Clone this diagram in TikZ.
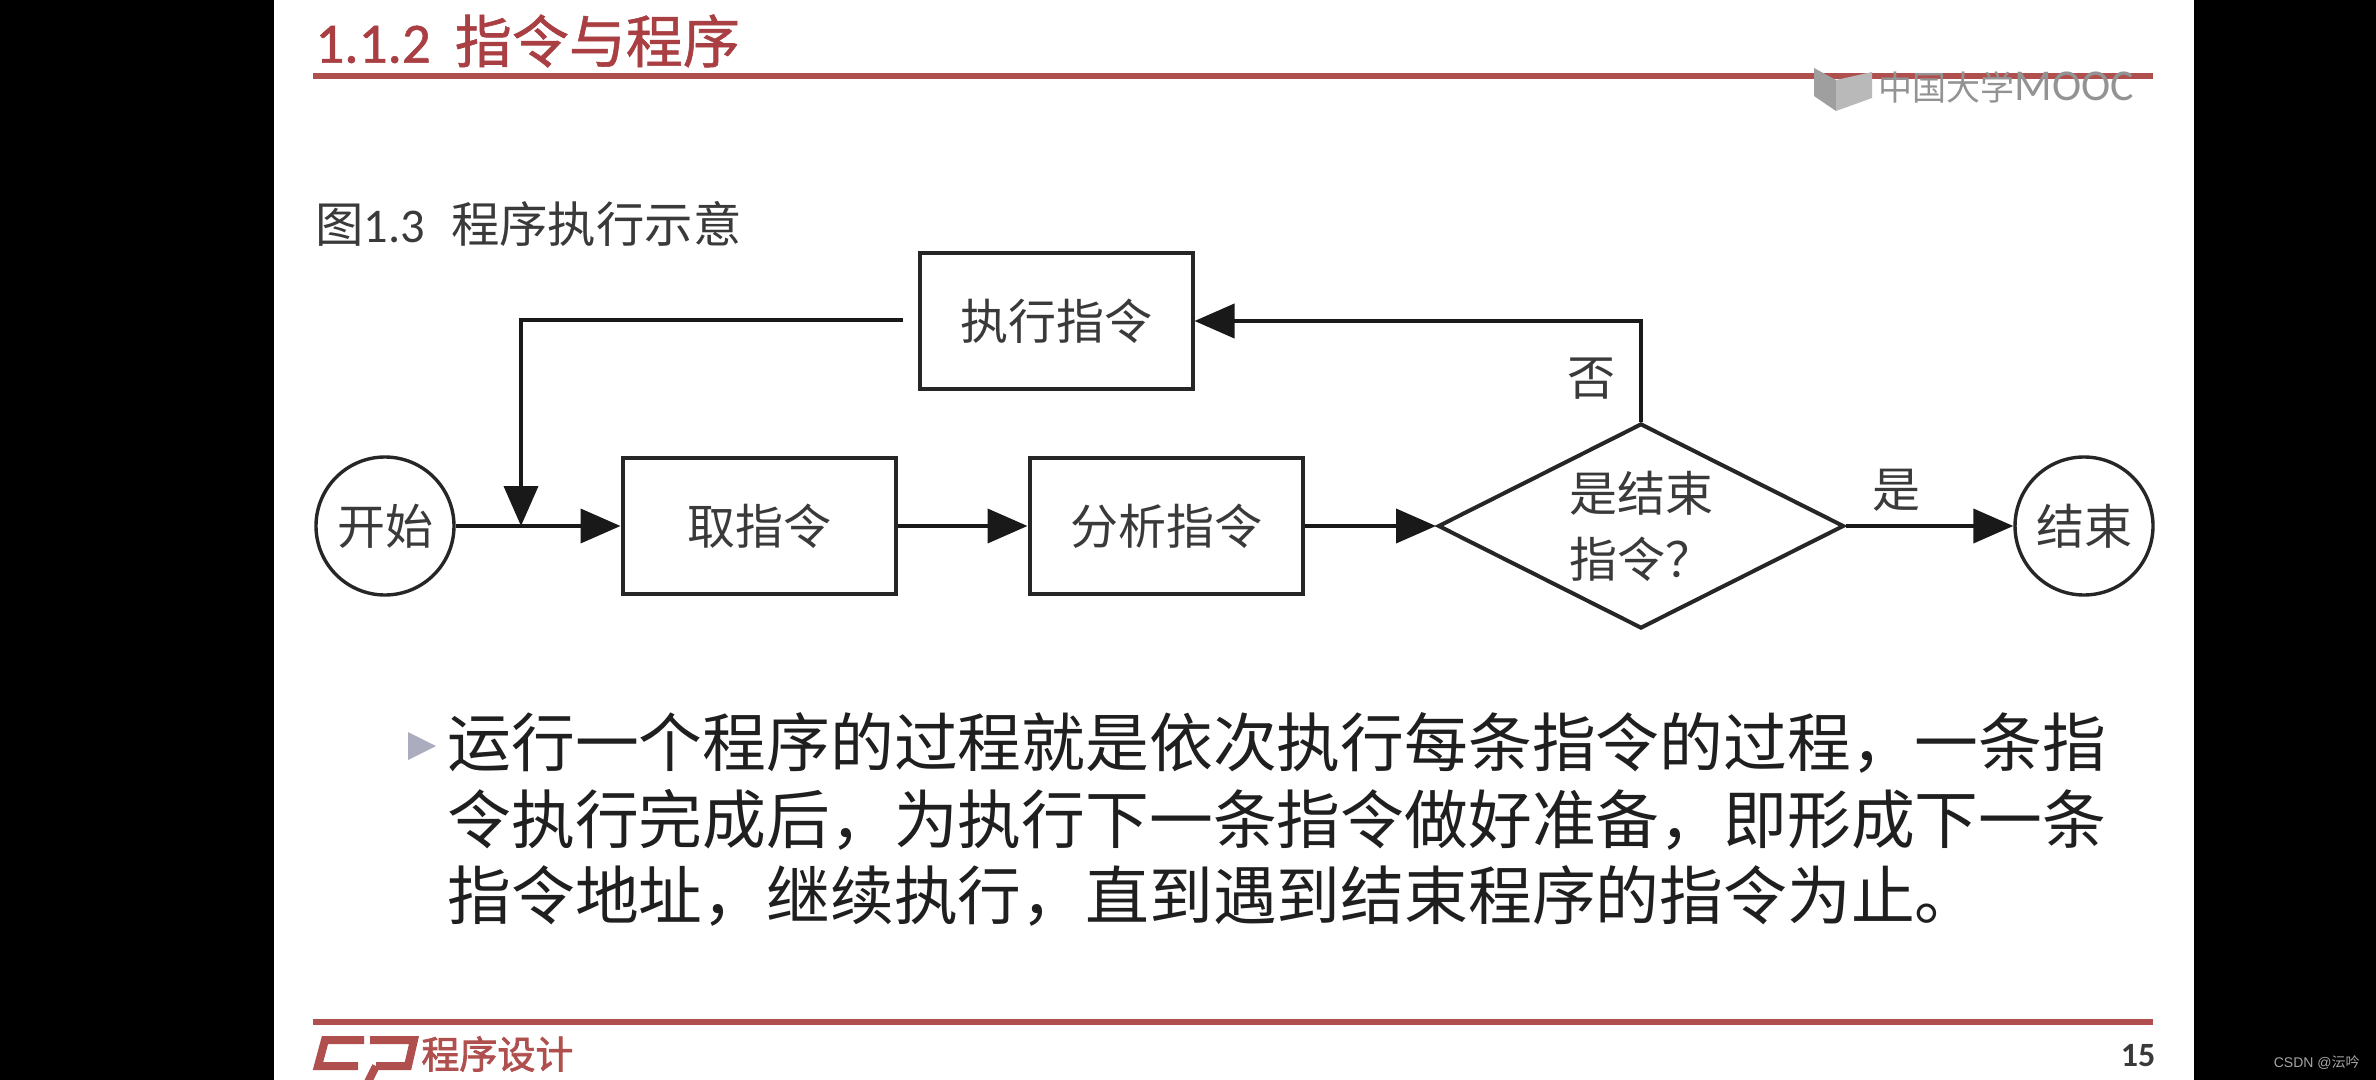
\documentclass[tikz,border=0pt]{standalone}
\usepackage{fontspec}
\setmainfont{Noto Sans CJK SC}
\newfontfamily\latf{Carlito}
\newfontfamily\arf{Liberation Sans}
\usetikzlibrary{shapes.geometric,arrows.meta}
\definecolor{slidered}{HTML}{B0504E}
\definecolor{titlered}{HTML}{A93F42}
\definecolor{inkgray}{HTML}{3A3A3A}
\tikzset{
  x=0.5pt,y=-0.5pt,
  boxnode/.style={draw=black!85,line width=2pt,minimum width=136.5pt,minimum height=68pt,inner sep=0pt,text=inkgray,font=\fontsize{24}{28}\selectfont},
  endnode/.style={circle,draw=black!85,line width=1.7pt,minimum size=69pt,inner sep=0pt,text=inkgray,font=\fontsize{24}{28}\selectfont},
  decnode/.style={diamond,aspect=2,draw=black!85,line width=2pt,minimum width=203pt,minimum height=102.5pt,inner sep=0pt,text=inkgray,align=left,font=\fontsize{24}{33}\selectfont},
  conn/.style={draw=black!90,line width=2pt},
  arrowconn/.style={conn,-{Triangle[length=20pt,width=17pt]}},
  lbl/.style={inner sep=0pt,text=inkgray,font=\fontsize{24}{28}\selectfont},
  bodyline/.style={anchor=west,inner sep=0pt,text=black!88,font=\fontsize{31.9}{36}\selectfont},
  redrule/.style={draw=slidered,line width=3.2pt},
  logostroke/.style={draw=slidered,line width=4pt,line join=miter}
}
\begin{document}
\begin{tikzpicture}
\useasboundingbox (0,0) rectangle (2376,1080);
\fill[black] (0,0) rectangle (2376,1080);
\fill[white] (274,0) rectangle (2194,1080);
\begin{scope}
\clip (0,0) rectangle (2376,1080);
% header
\node[anchor=west,inner sep=0pt,text=titlered] (title) at (315,41) {\fontsize{28.5}{32}\selectfont\addfontfeature{FakeBold=1}{\latf\addfontfeature{FakeBold=1} 1.1.2}\hspace{12pt}指令与程序};
\draw[redrule] (313,76) -- (2153,76);
% watermark
\fill[gray!75] (1814,68) -- (1836,80) -- (1836,111) -- (1814,96) -- cycle;
\fill[gray!55] (1836,80) -- (1872,72) -- (1872,98) -- (1836,111) -- cycle;
\node[anchor=west,inner sep=0pt,text=gray!85] (mooc) at (1878,87) {\fontsize{17}{20}\selectfont 中国大学\latf\fontsize{22}{20}\selectfont MOOC};
% caption
\node[anchor=west,inner sep=0pt,text=inkgray] (caption) at (315,224) {\fontsize{24.2}{28}\selectfont 图{\latf 1.3}\hspace{13pt}程序执行示意};
% flow nodes
\node[endnode] (start) at (385,526) {开始};
\node[boxnode] (fetch) at (759,526) {取指令};
\node[boxnode] (decode) at (1166,526) {分析指令};
\node[boxnode] (exec) at (1056,321) {执行指令};
\node[decnode] (check) at (1641,526) {是结束\\指令？};
\node[endnode] (stop) at (2084,526) {结束};
\coordinate (fbstart) at (903,320);
\coordinate (fbcorner) at (521,320);
\coordinate (fbjoin) at (521,526);
\draw[arrowconn] (start) -- (fetch);
\draw[arrowconn] (fetch) -- (decode);
\draw[arrowconn] (decode) -- (check);
\draw[arrowconn] (check) -- (stop);
\draw[arrowconn] (check.north) |- (exec.east);
\draw[arrowconn] (fbstart) -- (fbcorner) -- (fbjoin);
\node[lbl] (no) at (1591,379) {否};
\node[lbl] (yes) at (1896,490) {是};
% bullet text
\fill[black!25!blue!18!gray!55] (408,732) -- (436,746) -- (408,760) -- cycle;
\node[bodyline] (l1) at (447,743) {运行一个程序的过程就是依次执行每条指令的过程，一条指};
\node[bodyline] (l2) at (447,820) {令执行完成后，为执行下一条指令做好准备，即形成下一条};
\node[bodyline] (l3) at (447,896) {指令地址，继续执行，直到遇到结束程序的指令为止。};
% footer
\draw[redrule] (313,1022) -- (2153,1022);
\draw[logostroke] (364,1040) -- (325,1040) -- (318,1066) -- (358,1066);
\draw[logostroke] (370,1040) -- (414,1040) -- (408,1066) -- (376,1066);
\draw[logostroke] (376,1066) -- (368,1082);
\node[anchor=west,inner sep=0pt,text=slidered] (course) at (421,1054) {\fontsize{19}{22}\selectfont\addfontfeature{FakeBold=2}程序设计};
\node[inner sep=0pt,text=inkgray] (page) at (2138,1056) {\latf\bfseries\fontsize{17}{18}\selectfont 15};
\node[anchor=east,inner sep=0pt,text=gray!70] (credit) at (2360,1063) {\arf\fontsize{7}{9}\selectfont CSDN @\fontspec{Noto Sans CJK SC}\fontsize{7}{9}\selectfont 沄吟};
\end{scope}
\end{tikzpicture}
\end{document}
